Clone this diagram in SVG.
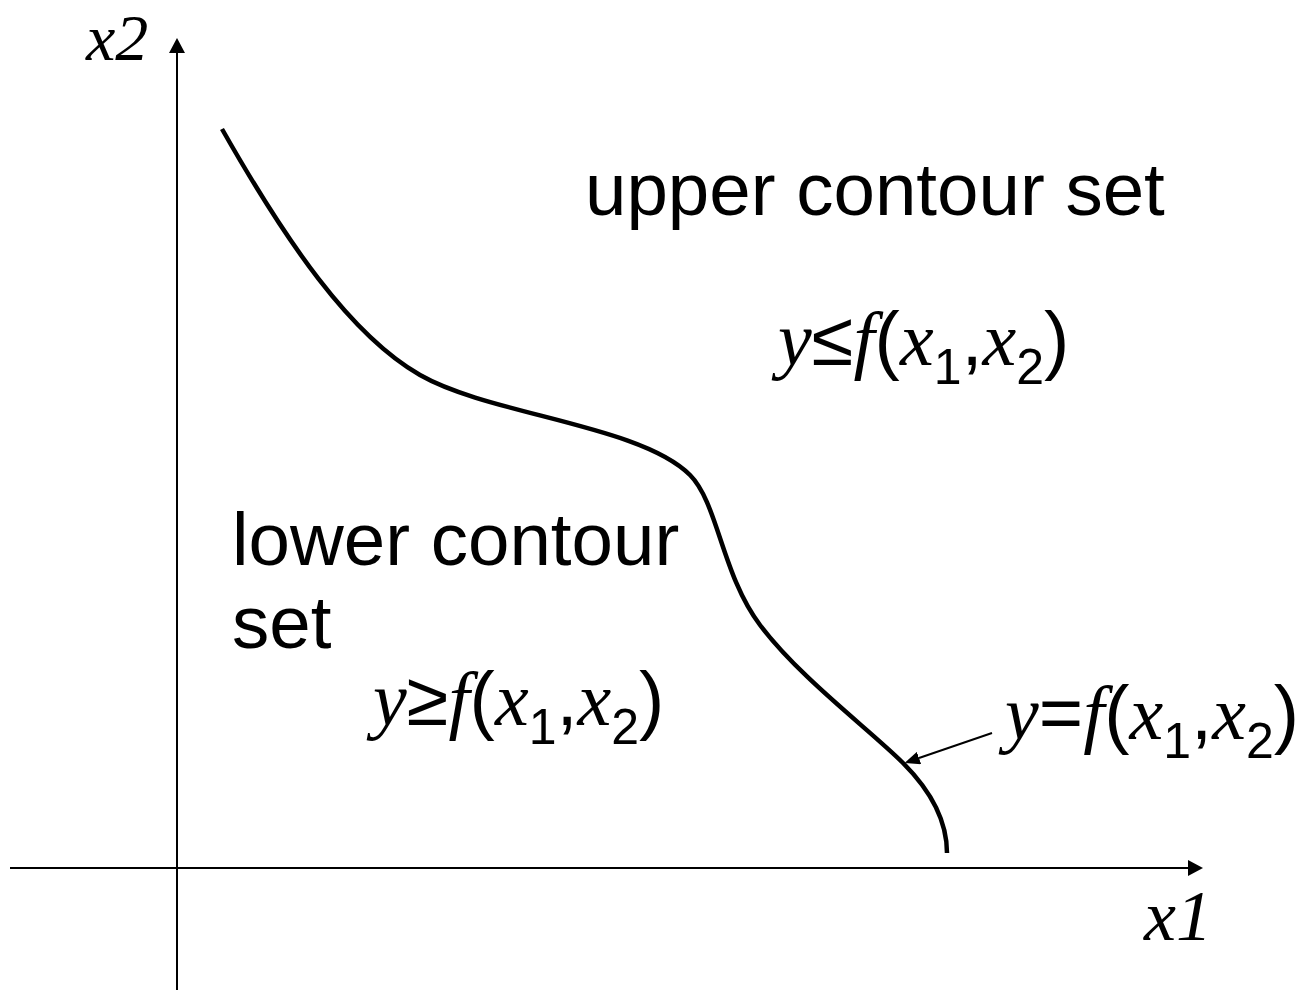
<svg xmlns="http://www.w3.org/2000/svg" width="1303" height="1005" viewBox="0 0 1303 1005">
<style>
.ar{font-family:"Liberation Sans",Arial,sans-serif;}
.ti{font-family:"Liberation Serif","Times New Roman",serif;font-style:italic;}
.lbl{font-family:"Liberation Sans",Arial,sans-serif;font-size:74.5px;fill:#000;}
.math{font-size:76px;fill:#000;}
.sub{font-size:50px;}
.axis{stroke:#000;stroke-width:2;fill:none;}
</style>
<defs>
<marker id="ah" markerUnits="userSpaceOnUse" markerWidth="15" markerHeight="16" viewBox="0 0 15 16" refX="0" refY="8" orient="auto">
<path d="M0,0 L15,8 L0,16 z" fill="#000"/>
</marker>
<marker id="ahs" markerUnits="userSpaceOnUse" markerWidth="15" markerHeight="13" viewBox="0 0 15 13" refX="0" refY="6.5" orient="auto">
<path d="M0,0 L15,6.5 L0,13 z" fill="#000"/>
</marker>
</defs>
<rect width="1303" height="1005" fill="#fff"/>
<g id="connectors">
<line class="axis" x1="177" y1="990" x2="177" y2="53" marker-end="url(#ah)"/>
<line class="axis" x1="10" y1="868" x2="1188" y2="868" marker-end="url(#ah)"/>
<path id="curve" d="M222,129 C285,240 350,335 420,375 C490,415 640,425 690,475 C718,503 722,575 760,625 C800,678 870,730 903,763 C930,790 947,820 947,853" fill="none" stroke="#000" stroke-width="4.5"/>
<line x1="992" y1="733" x2="919" y2="758" stroke="#000" stroke-width="2" marker-end="url(#ahs)"/>
</g>
<g id="axis-x2"><text class="ti" x="86" y="60" font-size="66">x2</text></g>
<g id="axis-x1"><text class="ti" x="1144" y="940" font-size="72">x1</text></g>
<g id="upper"><text class="lbl" x="585" y="215">upper contour set</text></g>
<g id="lower"><text class="lbl" x="232" y="565">lower contour</text><text class="lbl" x="232" y="648">set</text></g>
<g id="f-upper"><text class="math" x="778" y="365"><tspan class="ti">y</tspan><tspan class="ar">≤</tspan><tspan class="ti">f</tspan><tspan class="ar">(</tspan><tspan class="ti">x</tspan><tspan class="ar sub" dy="19">1</tspan><tspan class="ar" dy="-19">,</tspan><tspan class="ti">x</tspan><tspan class="ar sub" dy="19">2</tspan><tspan class="ar" dy="-19">)</tspan></text></g>
<g id="f-lower"><text class="math" x="373" y="725"><tspan class="ti">y</tspan><tspan class="ar">≥</tspan><tspan class="ti">f</tspan><tspan class="ar">(</tspan><tspan class="ti">x</tspan><tspan class="ar sub" dy="19">1</tspan><tspan class="ar" dy="-19">,</tspan><tspan class="ti">x</tspan><tspan class="ar sub" dy="19">2</tspan><tspan class="ar" dy="-19">)</tspan></text></g>
<g id="f-eq"><text class="math" x="1005" y="739"><tspan class="ti">y</tspan><tspan class="ar">=</tspan><tspan class="ti">f</tspan><tspan class="ar">(</tspan><tspan class="ti">x</tspan><tspan class="ar sub" dy="19">1</tspan><tspan class="ar" dy="-19">,</tspan><tspan class="ti">x</tspan><tspan class="ar sub" dy="19">2</tspan><tspan class="ar" dy="-19">)</tspan></text></g>
</svg>
